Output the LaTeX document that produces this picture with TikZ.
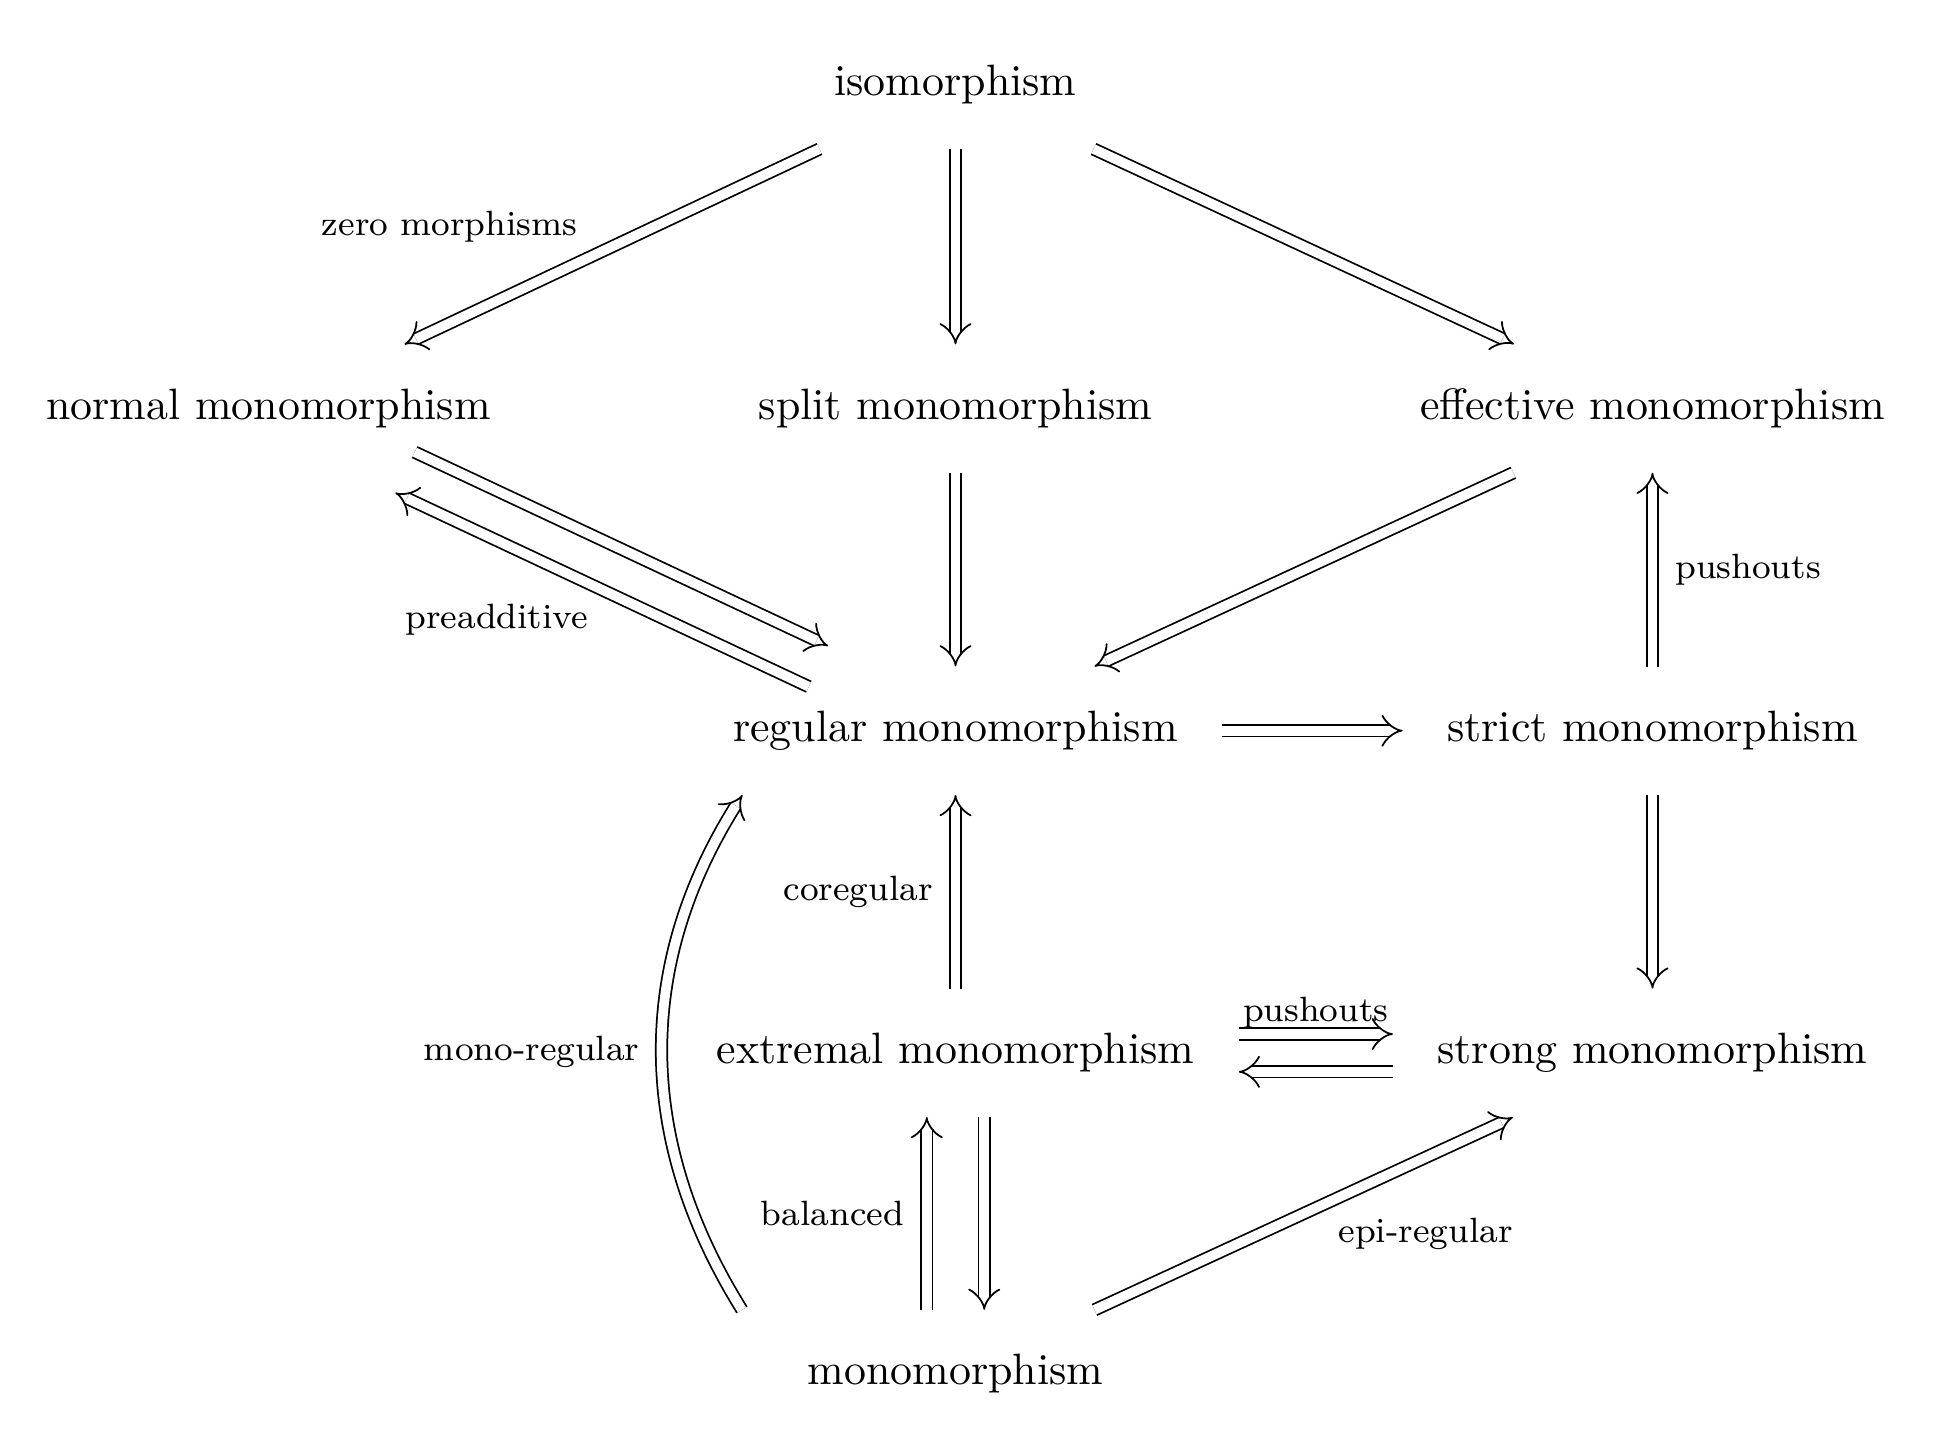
\documentclass[tikz,border=0pt]{standalone}
\usepackage{tikz}
\usetikzlibrary{arrows.meta}
\tikzset{
    mono_node/.style = {align=center, inner sep=0.35cm, text centered},
    imp_arrow/.style = {double, double distance=2.2pt, -{Implies}, thin},
    lab/.style = {font=\footnotesize, inner sep=3pt}
}

\begin{document}
\begin{tikzpicture}
            \useasboundingbox (0,0) rectangle (15.5,11.45);

            \node [mono_node] (iso) at (7.65,10.77) {isomorphism};
            \node [mono_node] (normal) at (2.15,8.18) {normal monomorphism};
            \node [mono_node] (split) at (7.65,8.18) {split monomorphism};
            \node [mono_node] (effective) at (13.23,8.18) {effective monomorphism};
            \node [mono_node] (regular) at (7.65,5.60) {regular monomorphism};
            \node [mono_node] (strict) at (13.23,5.60) {strict monomorphism};
            \node [mono_node] (extremal) at (7.65,3.02) {extremal monomorphism};
            \node [mono_node] (strong) at (13.23,3.02) {strong monomorphism};
            \node [mono_node] (mono) at (7.65,0.45) {monomorphism};

            % top row
            \draw [imp_arrow] (iso) -- node [lab, above left, pos=0.55] {zero morphisms} (normal);
            \draw [imp_arrow] (iso) -- (split);
            \draw [imp_arrow] (iso) -- (effective);

            % into regular
            \draw [imp_arrow, transform canvas={shift={(0.077,0.163)}}] (normal) -- (regular);
            \draw [imp_arrow, transform canvas={shift={(-0.077,-0.163)}}] (regular) -- node [lab, below left] {preadditive} (normal);
            \draw [imp_arrow] (split) -- (regular);
            \draw [imp_arrow] (effective) -- (regular);

            % right column
            \draw [imp_arrow] (regular) -- (strict);
            \draw [imp_arrow] (strict) -- node [lab, right, xshift=2pt] {pushouts} (effective);
            \draw [imp_arrow] (strict) -- (strong);

            % lower part
            \draw [imp_arrow] (extremal) -- node [lab, left, xshift=-2pt] {coregular} (regular);
            \draw [imp_arrow, transform canvas={yshift=4.3pt}] (extremal) -- node [lab, above, inner sep=1pt] {pushouts} (strong);
            \draw [imp_arrow, transform canvas={yshift=-4.3pt}] (strong) -- (extremal);
            \draw [imp_arrow, transform canvas={xshift=-0.23cm}] (mono) -- node [lab, left, xshift=-2pt] {balanced} (extremal);
            \draw [imp_arrow, transform canvas={xshift=0.23cm}] (extremal) -- (mono);
            \draw [imp_arrow] (mono) -- node [lab, below right, pos=0.55] {epi-regular} (strong);
            \draw [imp_arrow] ([xshift=-0.17cm]mono.north west) to [bend left=32]
                node [lab, left, xshift=-2pt] {mono-regular} ([xshift=0.43cm]regular.south west);
\end{tikzpicture}
\end{document}
